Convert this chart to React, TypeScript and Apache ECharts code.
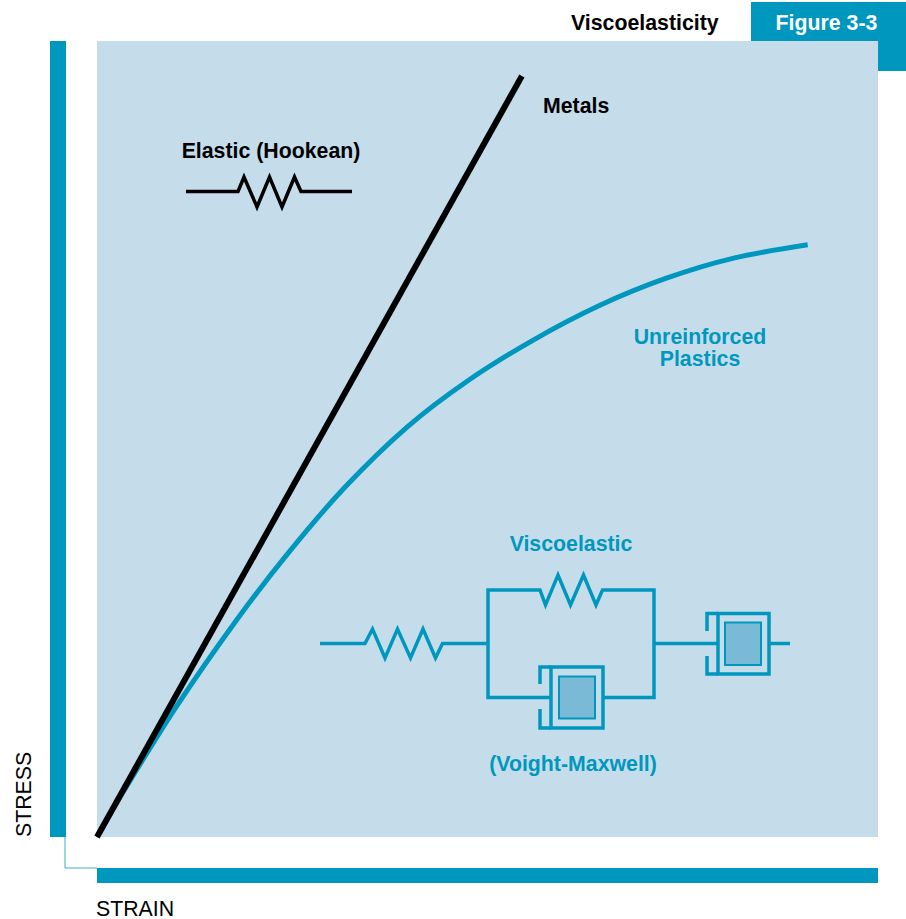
import React, { useEffect, useRef } from "react";
import * as echarts from "echarts";

const TEAL = "#0097BF";
const PANEL = "#C5DDEB";
const PISTON = "#7ABAD6";

// Series values (strain %, stress %)
const metalsStrain = [0, 54.4];
const metalsStress = [0, 95.6];
const plasticsStrain = [0, 3.5, 10.1, 17.9, 24.5, 31.8, 39.7, 47.3, 55.8, 64.4, 72.9, 81.4, 91.0];
const plasticsStress = [0, 5.9, 16.3, 27.3, 35.7, 44.0, 51.5, 57.2, 62.4, 66.8, 70.2, 72.7, 74.4];

const line = (points: number[][], stroke: string, lineWidth = 3.5): any => ({
  type: "polyline",
  shape: { points },
  style: { stroke, lineWidth, fill: "none", lineJoin: "miter", lineCap: "butt" },
  silent: true,
});

const label = (text: string, x: number, y: number, fill: string, align = "center", size = 21.3, weight = "bold", rotation = 0): any => ({
  type: "text",
  x,
  y,
  rotation,
  style: {
    text,
    x: 0,
    y: 0,
    fill,
    align,
    verticalAlign: "middle",
    font: `${weight} ${size}px "Liberation Sans", Arial, sans-serif`,
  },
  silent: true,
});

const dashpot = (left: number, right: number, top: number, bottom: number, bracketX: number, gapTop: number, gapBottom: number, inner: number[]): any[] => [
  {
    type: "rect",
    shape: { x: inner[0], y: inner[2], width: inner[1] - inner[0], height: inner[3] - inner[2] },
    style: { fill: PISTON, stroke: TEAL, lineWidth: 2 },
    silent: true,
  },
  {
    type: "rect",
    shape: { x: left, y: top, width: right - left, height: bottom - top },
    style: { fill: "none", stroke: TEAL, lineWidth: 3.5 },
    silent: true,
  },
  line([[left, top], [bracketX, top], [bracketX, gapTop]], TEAL),
  line([[bracketX, gapBottom], [bracketX, bottom], [left, bottom]], TEAL),
];

export default function App() {
  const ref = useRef<HTMLDivElement>(null);
  useEffect(() => {
    const chart = echarts.init(ref.current!, undefined, { renderer: "svg" });
    chart.setOption({
      animation: false,
      backgroundColor: "#ffffff",
      grid: { left: 97, right: 28, top: 41, bottom: 82, show: true, backgroundColor: PANEL, borderWidth: 0 },
      xAxis: { type: "value", min: 0, max: 100, show: false },
      yAxis: { type: "value", min: 0, max: 100, show: false },
      series: [
        {
          name: "Unreinforced Plastics",
          type: "line",
          smooth: 0.33,
          symbol: "none",
          lineStyle: { color: TEAL, width: 5 },
          data: plasticsStrain.map((x, i) => [x, plasticsStress[i]]),
          z: 2,
        },
        {
          name: "Metals",
          type: "line",
          symbol: "none",
          lineStyle: { color: "#000000", width: 6, cap: "butt" },
          data: metalsStrain.map((x, i) => [x, metalsStress[i]]),
          z: 3,
        },
      ],
      graphic: {
        elements: [
          // Frame
          { type: "polygon", shape: { points: [[751, 2], [906, 2], [906, 71], [878, 71], [878, 41], [751, 41]] }, style: { fill: TEAL }, silent: true },
          { type: "rect", shape: { x: 50, y: 41, width: 16, height: 796 }, style: { fill: TEAL }, silent: true },
          { type: "rect", shape: { x: 97, y: 868, width: 781, height: 15 }, style: { fill: TEAL }, silent: true },
          line([[65, 837], [65, 868], [97, 868]], "#3FAACB", 1),
          // Labels
          label("Viscoelasticity", 571, 23, "#000000", "left"),
          label("Figure 3-3", 826.5, 23, "#ffffff"),
          label("Metals", 543, 106, "#000000", "left"),
          label("Elastic (Hookean)", 271, 151, "#000000"),
          label("Unreinforced", 700, 337, TEAL),
          label("Plastics", 700, 359, TEAL),
          label("Viscoelastic", 571, 544, TEAL),
          label("(Voight-Maxwell)", 573, 764, TEAL),
          label("STRAIN", 96, 908.5, "#000000", "left", 21.3, "normal"),
          label("STRESS", 24, 837, "#000000", "left", 21.3, "normal", Math.PI / 2),
          // Elastic spring
          line([[186, 191.5], [238, 191.5], [244, 177], [257, 207], [269.5, 177], [282, 207], [294.5, 177], [301, 191.5], [352, 191.5]], "#000000"),
          // Viscoelastic model
          line([[320, 643.5], [365, 643.5], [372.5, 629], [385, 658], [397.5, 629], [410.5, 658], [423, 629], [435.5, 658], [442.5, 643.5], [488, 643.5]], TEAL),
          line([[551, 697.5], [488, 697.5], [488, 590], [540, 590], [545.5, 605], [558, 575], [570.5, 605], [583.5, 575], [596, 605], [602.5, 590], [654, 590], [654, 697.5], [603, 697.5]], TEAL),
          line([[654, 643.5], [718, 643.5]], TEAL),
          line([[769, 643.5], [790, 643.5]], TEAL),
          ...dashpot(551, 603, 667, 728, 540, 684, 709, [559, 595, 676.5, 718.5]),
          ...dashpot(718, 769, 613.5, 674, 707, 631, 656, [725, 761, 622.5, 665]),
        ],
      },
    });
    return () => chart.dispose();
  }, []);
  return <div ref={ref} style={{ position: "fixed", left: 0, top: 0, width: 906, height: 919 }} />;
}
